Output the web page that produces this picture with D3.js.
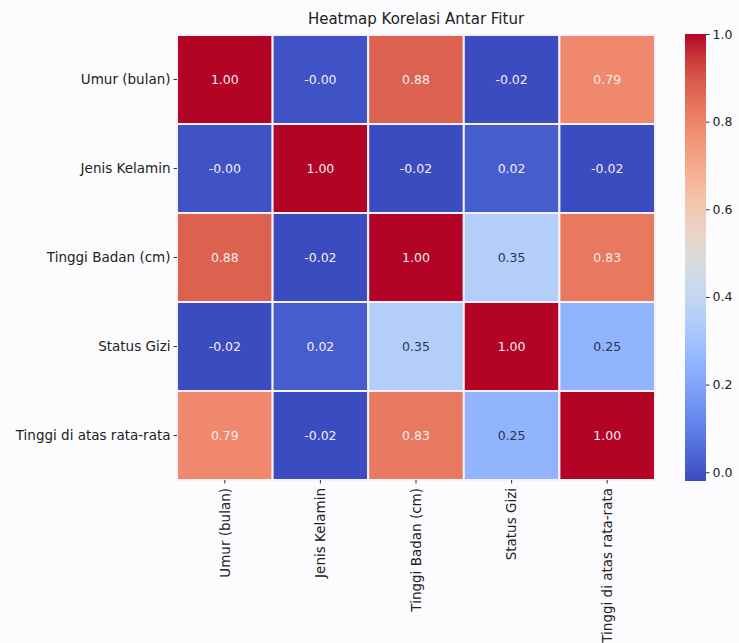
<!DOCTYPE html>
<html>
<head>
<meta charset="utf-8">
<script src="https://cdn.jsdelivr.net/npm/d3@7"></script>
<style>
  html, body { margin: 0; padding: 0; background: #fcfbfd; }
  svg { display: block; font-family: "DejaVu Sans", sans-serif; }
</style>
</head>
<body>
<div id="chart"></div>
<script>
"use strict";

/* ── Data ── */
const features = ["Umur (bulan)", "Jenis Kelamin", "Tinggi Badan (cm)", "Status Gizi", "Tinggi di atas rata-rata"];
const corrRows = [
  [ 1.00, -0.003,  0.88, -0.02,  0.79],
  [-0.003,  1.00, -0.02,  0.02, -0.02],
  [ 0.88, -0.02,  1.00,  0.35,  0.83],
  [-0.02,  0.02,  0.35,  1.00,  0.25],
  [ 0.79, -0.02,  0.83,  0.25,  1.00]
];
const colorbarTicks = [0.0, 0.2, 0.4, 0.6, 0.8, 1.0];
const chartTitle = "Heatmap Korelasi Antar Fitur";

/* ── coolwarm colour map (matplotlib control points) ── */
const coolwarmStops = [
  "#3b4cc0", "#4d68d7", "#6282ea", "#779af7", "#8db0fe", "#a3c2ff", "#b7d1f8", "#cbdaeb",
  "#dddddd", "#edd3c4", "#f4c4ac", "#f6b093", "#f49a7b", "#ed8165", "#e06551", "#cd463e", "#b40426"
];
const coolwarm = d3.interpolateRgbBasis(coolwarmStops);

const vmin = d3.min(corrRows.flat());
const vmax = d3.max(corrRows.flat());
const colour = d3.scaleSequential(coolwarm).domain([vmin, vmax]);

/* ── Layout ── */
const W = 739, H = 643;
const plot = { left: 177, right: 655, top: 35, bottom: 480 };

const svg = d3.select("#chart").append("svg")
  .attr("width", W).attr("height", H);

const x = d3.scaleBand().domain(features).range([plot.left, plot.right]);
const y = d3.scaleBand().domain(features).range([plot.top, plot.bottom]);

const cells = corrRows.flatMap((row, i) =>
  row.map((v, j) => ({ row: features[i], col: features[j], value: v })));

/* ── Cells ── */
svg.append("g").selectAll("rect")
  .data(cells)
  .join("rect")
  .attr("x", d => x(d.col))
  .attr("y", d => y(d.row))
  .attr("width", x.bandwidth())
  .attr("height", y.bandwidth())
  .attr("fill", d => colour(d.value))
  .attr("stroke", "#f6f0f8")
  .attr("stroke-width", 2);

/* ── Annotations ── */
svg.append("g").selectAll("text")
  .data(cells)
  .join("text")
  .attr("x", d => x(d.col) + x.bandwidth() / 2)
  .attr("y", d => y(d.row) + y.bandwidth() / 2)
  .attr("text-anchor", "middle")
  .attr("dominant-baseline", "central")
  .attr("font-size", "12.5px")
  .attr("fill", d => {
    const c = d3.hsl(colour(d.value));
    return c.l > 0.7 ? "#2a3550" : "#f4eef4";
  })
  .text(d => d.value.toFixed(2));

/* ── Axes ── */
const yAxis = svg.append("g")
  .attr("transform", `translate(${plot.left},0)`)
  .call(d3.axisLeft(y).tickSize(3.5).tickPadding(3));

const xAxis = svg.append("g")
  .attr("transform", `translate(0,${plot.bottom})`)
  .call(d3.axisBottom(x).tickSize(3.5).tickPadding(3));

[yAxis, xAxis].forEach(a => {
  a.select(".domain").remove();
  a.selectAll(".tick line").attr("stroke", "#333");
  a.selectAll("text")
    .attr("fill", "#222")
    .attr("font-size", "13.5px")
    .attr("font-family", "'DejaVu Sans', sans-serif");
});

xAxis.selectAll("text")
  .attr("transform", "rotate(-90)")
  .attr("text-anchor", "end")
  .attr("dy", "0.35em")
  .attr("x", -8)
  .attr("y", 0);

/* ── Title ── */
svg.append("text")
  .attr("x", (plot.left + plot.right) / 2)
  .attr("y", 24)
  .attr("text-anchor", "middle")
  .attr("font-size", "15px")
  .attr("fill", "#222")
  .text(chartTitle);

/* ── Colour bar ── */
const cb = { left: 685, width: 21, top: 34, bottom: 481 };
const cbScale = d3.scaleLinear().domain([vmin, vmax]).range([cb.bottom, cb.top]);

const grad = svg.append("defs").append("linearGradient")
  .attr("id", "cbGrad")
  .attr("x1", 0).attr("y1", 1).attr("x2", 0).attr("y2", 0);

d3.range(0, 1.0001, 0.05).forEach(t => {
  grad.append("stop")
    .attr("offset", t)
    .attr("stop-color", coolwarm(t));
});

svg.append("rect")
  .attr("x", cb.left).attr("y", cb.top)
  .attr("width", cb.width).attr("height", cb.bottom - cb.top)
  .attr("fill", "url(#cbGrad)");

const cbAxis = svg.append("g")
  .attr("transform", `translate(${cb.left + cb.width},0)`)
  .call(d3.axisRight(cbScale).tickValues(colorbarTicks).tickFormat(d3.format(".1f")).tickSize(3.5).tickPadding(3));

cbAxis.select(".domain").remove();
cbAxis.selectAll(".tick line").attr("stroke", "#333");
cbAxis.selectAll("text")
  .attr("fill", "#222")
  .attr("font-size", "12.5px")
  .attr("font-family", "'DejaVu Sans', sans-serif");
</script>
</body>
</html>
